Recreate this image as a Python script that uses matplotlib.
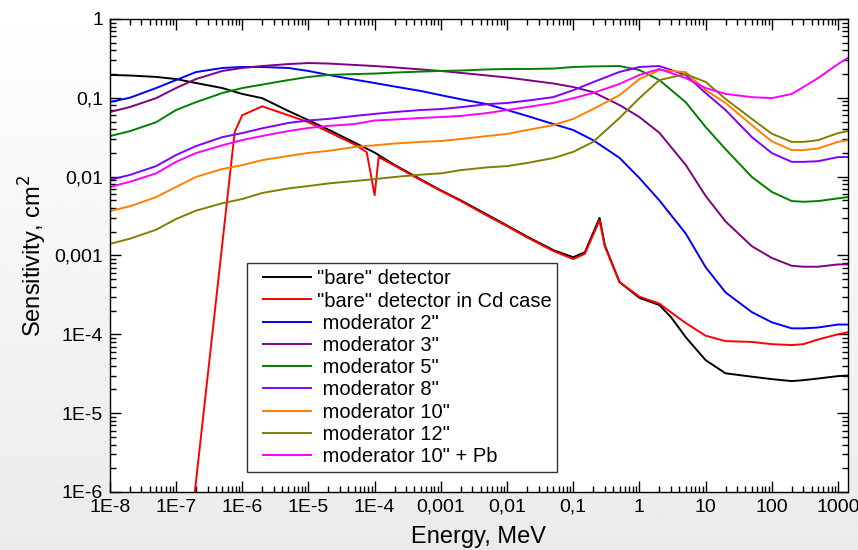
import matplotlib.pyplot as plt
import numpy as np
from matplotlib.ticker import FixedLocator, LogLocator, NullFormatter
from matplotlib.legend_handler import HandlerLine2D
from matplotlib.lines import Line2D

plt.rcParams['font.family'] = ['Liberation Sans', 'DejaVu Sans']

# energy grid, MeV
energy = [1e-8, 2e-8, 5e-8, 1e-7, 2e-7, 5e-7, 1e-6, 2e-6, 5e-6, 1e-5, 2e-5, 5e-5,
          1e-4, 2e-4, 5e-4, 1e-3, 2e-3, 5e-3, 1e-2, 2e-2, 5e-2, 0.1, 0.2, 0.5,
          1, 2, 5, 10, 20, 50, 100, 200, 300, 500, 1000, 1400]

bare_energy = [1e-8, 2e-8, 5e-8, 1e-7, 2e-7, 5e-7, 1e-6, 2e-6, 5e-6, 1e-5, 2e-5, 5e-5,
               1e-4, 2e-4, 5e-4, 1e-3, 2e-3, 5e-3, 1e-2, 2e-2, 5e-2, 0.1, 0.15, 0.25,
               0.3, 0.5, 1, 2, 3, 5, 10, 20, 50, 100, 200, 300, 500, 1000, 1400]
bare = [0.195, 0.192, 0.184, 0.173, 0.154, 0.133, 0.112, 0.099, 0.068, 0.052, 0.0395, 0.027,
        0.0202, 0.0141, 0.0092, 0.0067, 0.005, 0.0033, 0.0024, 0.00174, 0.00117, 0.00095, 0.0011, 0.003,
        0.00135, 0.00046, 0.00029, 0.000235, 0.000165, 9.2e-5, 4.7e-5, 3.2e-5, 2.9e-5, 2.7e-5, 2.55e-5,
        2.62e-5, 2.75e-5, 2.95e-5, 3.0e-5]

cd_energy = [1e-7, 7.7e-7, 1e-6, 2e-6, 5e-6, 1e-5, 2e-5, 5e-5, 7.6e-5, 1e-4, 1.15e-4, 2e-4,
             5e-4, 1e-3, 2e-3, 5e-3, 1e-2, 2e-2, 5e-2, 0.1, 0.15, 0.25, 0.3, 0.5, 1, 2, 3,
             5, 10, 20, 50, 100, 200, 300, 500, 1000, 1400]
bare_cd = [7e-9, 0.037, 0.06, 0.078, 0.06, 0.049, 0.037, 0.0256, 0.0204, 0.0058, 0.0177, 0.0138,
           0.009, 0.0066, 0.0049, 0.0032, 0.00235, 0.0017, 0.00114, 0.0009, 0.00105, 0.0028, 0.0013,
           0.00046, 0.0003, 0.000245, 0.00019, 0.000139, 9.6e-5, 8.2e-5, 8.0e-5, 7.5e-5, 7.3e-5,
           7.5e-5, 8.6e-5, 1.0e-4, 1.06e-4]

mod2 = [0.0885, 0.10, 0.133, 0.168, 0.212, 0.239, 0.246, 0.246, 0.239, 0.219, 0.195, 0.17,
        0.154, 0.139, 0.122, 0.108, 0.096, 0.083, 0.07, 0.059, 0.0465, 0.039, 0.029, 0.0173,
        0.0096, 0.005, 0.0019, 0.00071, 0.00034, 0.000191, 0.000142, 0.000119, 0.000119,
        0.000122, 0.000133, 0.000133]
mod3 = [0.066, 0.0763, 0.099, 0.133, 0.173, 0.219, 0.239, 0.253, 0.268, 0.276, 0.272, 0.261,
        0.253, 0.243, 0.229, 0.219, 0.207, 0.192, 0.181, 0.168, 0.152, 0.137, 0.118, 0.081,
        0.057, 0.036, 0.0141, 0.0057, 0.0027, 0.00131, 0.00093, 0.00074, 0.00072, 0.00072,
        0.00077, 0.00077]
mod5 = [0.0327, 0.0377, 0.049, 0.07, 0.088, 0.115, 0.133, 0.147, 0.168, 0.184, 0.195, 0.2,
        0.203, 0.209, 0.215, 0.219, 0.222, 0.229, 0.232, 0.232, 0.235, 0.246, 0.25, 0.253,
        0.225, 0.168, 0.088, 0.0426, 0.0223, 0.0099, 0.0064, 0.0049, 0.0048, 0.0049,
        0.0053, 0.0055]
mod8 = [0.0091, 0.0105, 0.0136, 0.0188, 0.0244, 0.0317, 0.0357, 0.041, 0.048, 0.0516, 0.054, 0.0589,
        0.0625, 0.066, 0.07, 0.072, 0.076, 0.083, 0.086, 0.092, 0.102, 0.125, 0.158, 0.213,
        0.246, 0.253, 0.195, 0.115, 0.07, 0.0317, 0.0199, 0.0154, 0.0154, 0.0157, 0.0177, 0.0177]
mod10 = [0.00366, 0.0042, 0.0055, 0.0074, 0.0099, 0.0125, 0.014, 0.0162, 0.0183, 0.02, 0.0212, 0.0238,
         0.025, 0.0263, 0.0276, 0.0283, 0.03, 0.0327, 0.0348, 0.039, 0.045, 0.054, 0.072, 0.108,
         0.173, 0.225, 0.212, 0.125, 0.086, 0.045, 0.028, 0.0217, 0.0217, 0.0228, 0.0276, 0.029]
mod12 = [0.0014, 0.00163, 0.00212, 0.0029, 0.0037, 0.0046, 0.0052, 0.0062, 0.0071, 0.0076, 0.0082, 0.0088,
         0.0093, 0.0099, 0.0106, 0.011, 0.0121, 0.0131, 0.0136, 0.0149, 0.0172, 0.0206, 0.0276, 0.0555,
         0.099, 0.168, 0.2, 0.159, 0.0966, 0.054, 0.035, 0.0276, 0.0276, 0.029, 0.0357, 0.0378]
mod10_pb = [0.00738, 0.0086, 0.011, 0.0154, 0.0199, 0.025, 0.0291, 0.0328, 0.0379, 0.0414, 0.044, 0.0465,
            0.0516, 0.053, 0.0555, 0.057, 0.0589, 0.064, 0.07, 0.0763, 0.086, 0.099, 0.115, 0.15,
            0.195, 0.232, 0.178, 0.133, 0.112, 0.102, 0.099, 0.112, 0.137, 0.178, 0.268, 0.32]

x_ticks = [1e-8, 1e-7, 1e-6, 1e-5, 1e-4, 1e-3, 1e-2, 0.1, 1, 10, 100, 1000]
x_labels = ["1E-8", "1E-7", "1E-6", "1E-5", "1E-4", "0,001", "0,01", "0,1", "1", "10", "100", "1000"]
y_ticks = [1e-6, 1e-5, 1e-4, 1e-3, 1e-2, 0.1, 1]
y_labels = ["1E-6", "1E-5", "1E-4", "0,001", "0,01", "0,1", "1"]

fig = plt.figure(figsize=(8.58, 5.5), dpi=100)

# light grey gradient behind everything
bg = fig.add_axes([0, 0, 1, 1], zorder=-10)
grad = np.linspace(0.92, 1.0, 256).reshape(-1, 1)
bg.imshow(grad, aspect="auto", cmap="gray", vmin=0, vmax=1, origin="lower", extent=[0, 1, 0, 1])
bg.axis("off")

ax = fig.add_axes([0.128, 0.1055, 0.86, 0.86])
ax.set_facecolor("white")

lw = 1.4
ax.plot(bare_energy, bare, color="#000000", lw=lw, label='"bare" detector')
ax.plot(cd_energy, bare_cd, color="#FF0000", lw=lw, label='"bare" detector in Cd case')
ax.plot(energy, mod2, color="#0000FF", lw=lw, label=' moderator 2"')
ax.plot(energy, mod3, color="#800080", lw=lw, label=' moderator 3"')
ax.plot(energy, mod5, color="#008000", lw=lw, label=' moderator 5"')
ax.plot(energy, mod8, color="#8000FF", lw=lw, label=' moderator 8"')
ax.plot(energy, mod10, color="#FF8000", lw=lw, label=' moderator 10"')
ax.plot(energy, mod12, color="#808000", lw=lw, label=' moderator 12"')
ax.plot(energy, mod10_pb, color="#FF00FF", lw=lw, label=' moderator 10" + Pb')

ax.set_xscale("log")
ax.set_yscale("log")
ax.set_xlim(1e-8, 1.4e3)
ax.set_ylim(1e-6, 1)

ax.xaxis.set_major_locator(FixedLocator(x_ticks))
ax.set_xticklabels(x_labels)
ax.yaxis.set_major_locator(FixedLocator(y_ticks))
ax.set_yticklabels(y_labels)
ax.xaxis.set_minor_locator(LogLocator(base=10, subs=np.arange(2, 10), numticks=30))
ax.yaxis.set_minor_locator(LogLocator(base=10, subs=np.arange(2, 10), numticks=30))
ax.xaxis.set_minor_formatter(NullFormatter())
ax.yaxis.set_minor_formatter(NullFormatter())

ax.tick_params(which="both", direction="in", top=True, right=True, width=1, labelsize=14)
ax.tick_params(which="major", length=8, pad=5)
ax.tick_params(which="minor", length=4)
for s in ax.spines.values():
    s.set_linewidth(1)

ax.set_xlabel("Energy, MeV", fontsize=17, labelpad=7)
ax.set_ylabel("Sensitivity, cm$^2$", fontsize=17, labelpad=4)

leg = ax.legend(loc="lower left", bbox_to_anchor=(0.186, 0.042), borderaxespad=0,
                fontsize=14.5, handlelength=2.85, handletextpad=0.3, labelspacing=0.16,
                borderpad=0.3, fancybox=False, framealpha=1, edgecolor="#333333",
                handler_map={Line2D: HandlerLine2D(xpad=0.5)})
leg.get_frame().set_linewidth(1)

fig.savefig("out.png", dpi=100)
